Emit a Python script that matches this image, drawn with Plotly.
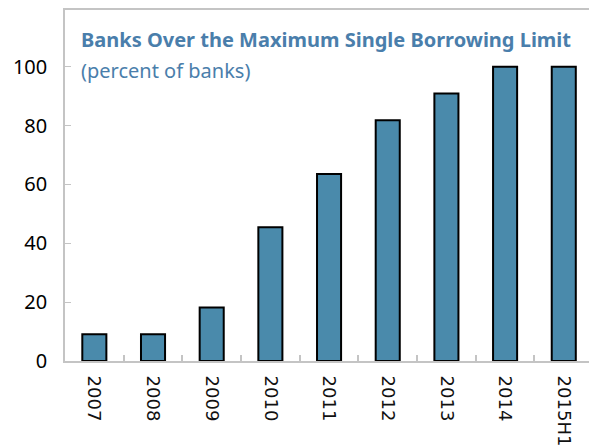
import plotly.graph_objects as go

# Share of banks above the maximum single borrowing limit
years = ["2007", "2008", "2009", "2010", "2011", "2012", "2013", "2014", "2015H1"]
share_pct = [9.1, 9.1, 18.2, 45.5, 63.6, 81.8, 90.9, 100.0, 100.0]
y_ticks = [0, 20, 40, 60, 80, 100]

title_main = "Banks Over the Maximum Single Borrowing Limit"
title_sub = "(percent of banks)"

bar_color = "#4A8AAB"
axis_gray = "#C4C4C4"
title_color = "#4A7EAB"

fig = go.Figure(
    go.Bar(
        x=years,
        y=share_pct,
        width=0.41,
        marker=dict(color=bar_color, line=dict(color="#000000", width=2)),
    )
)

fig.update_layout(
    width=589,
    height=446,
    margin=dict(l=65, r=0, t=10, b=85),
    paper_bgcolor="white",
    plot_bgcolor="white",
    showlegend=False,
)

fig.update_xaxes(
    type="category",
    range=[-0.5, 8.43],
    showline=True,
    linecolor=axis_gray,
    linewidth=2,
    mirror=True,
    ticks="inside",
    tickson="boundaries",
    ticklen=6,
    tickcolor=axis_gray,
    tickwidth=1.5,
    tickangle=90,
    ticklabelstandoff=9,
    tickfont=dict(family="DejaVu Sans", size=18, color="#111111"),
    showgrid=False,
)

fig.update_yaxes(
    range=[0, 119.3],
    tickvals=y_ticks,
    showline=True,
    linecolor=axis_gray,
    linewidth=1.5,
    ticks="inside",
    ticklen=6,
    tickcolor=axis_gray,
    ticklabelstandoff=12,
    tickfont=dict(family="Noto Sans", size=20, color="#000000"),
    showgrid=False,
    zeroline=False,
)

fig.add_annotation(
    x=0.027, y=0.915, xref="paper", yref="paper",
    xanchor="left", yanchor="middle",
    text="<b>" + title_main + "</b>",
    showarrow=False,
    font=dict(family="Noto Sans", size=20, color=title_color),
)
fig.add_annotation(
    x=0.027, y=0.829, xref="paper", yref="paper",
    xanchor="left", yanchor="middle",
    text=title_sub,
    showarrow=False,
    font=dict(family="Noto Sans", size=20, color=title_color),
)

fig.write_html("out.html")
